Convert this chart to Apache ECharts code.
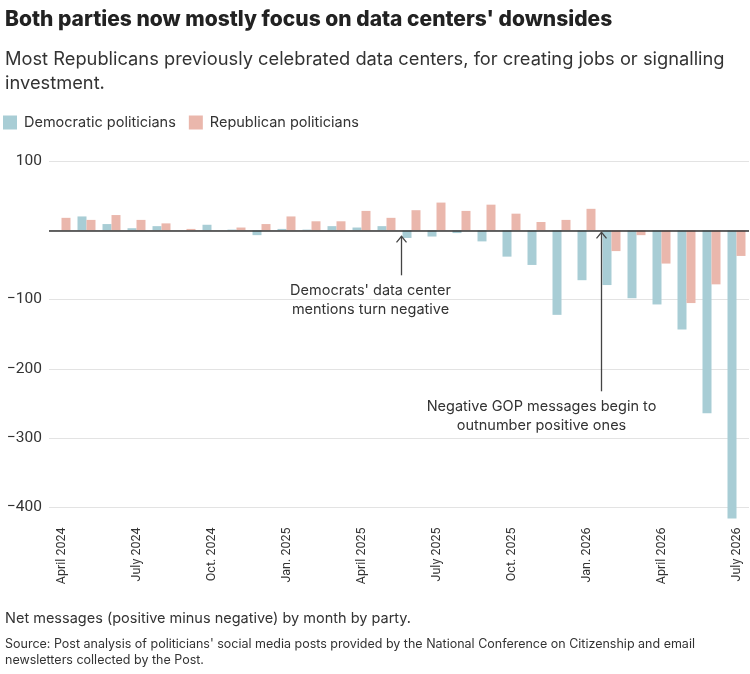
<!DOCTYPE html>
<html>
<head>
<meta charset="utf-8">
<script src="https://cdn.jsdelivr.net/npm/echarts@6/dist/echarts.min.js"></script>
<style>
  html, body { margin: 0; padding: 0; background: #fff; }
  #chart { width: 750px; height: 674px; }
</style>
</head>
<body>
<div id="chart"></div>
<script>
const months = [
  'April 2024', 'May 2024', 'June 2024', 'July 2024', 'Aug. 2024', 'Sept. 2024',
  'Oct. 2024', 'Nov. 2024', 'Dec. 2024', 'Jan. 2025', 'Feb. 2025', 'March 2025',
  'April 2025', 'May 2025', 'June 2025', 'July 2025', 'Aug. 2025', 'Sept. 2025',
  'Oct. 2025', 'Nov. 2025', 'Dec. 2025', 'Jan. 2026', 'Feb. 2026', 'March 2026',
  'April 2026', 'May 2026', 'June 2026', 'July 2026'
]

const democrats = [
  0, 20, 9, 3, 6, 0, 8, 1, -7, 2, 1, 6, 4, 6,
  -11, -9, -4, -16, -38, -50, -122, -72, -79, -98, -107, -143, -264, -416
]

const republicans = [
  18, 15, 22, 15, 10, 2, 0, 4, 9, 20, 13, 13, 28, 18,
  29, 40, 28, 37, 24, 12, 15, 31, -30, -7, -48, -105, -78, -37
]

const yTicks = [100, 0, -100, -200, -300, -400]

const FONT = 'Inter, Roboto, sans-serif'
const AXIS_FONT = 'Roboto, sans-serif'
const INK = '#333'
const BLUE = '#a8cdd5'
const RED = '#eab7ac'

const chart = echarts.init(document.getElementById('chart'), null, { renderer: 'canvas' })

chart.setOption({
  animation: false,
  backgroundColor: '#fff',
  textStyle: { fontFamily: FONT, color: INK },
  title: [
    {
      text: "Both parties now mostly focus on data centers' downsides",
      left: 5, top: 9, padding: 0,
      textStyle: { fontFamily: FONT, fontSize: 21, fontWeight: 800, color: '#222' }
    },
    {
      text: 'Most Republicans previously celebrated data centers, for creating jobs or signalling\ninvestment.',
      left: 5, top: 48, padding: 0,
      textStyle: { fontFamily: FONT, fontSize: 18.3, fontWeight: 'normal', color: INK, lineHeight: 24 }
    },
    {
      text: 'Net messages (positive minus negative) by month by party.',
      left: 5, top: 611, padding: 0,
      textStyle: { fontFamily: FONT, fontSize: 14.5, fontWeight: 'normal', color: INK }
    },
    {
      text: "Source: Post analysis of politicians' social media posts provided by the National Conference on Citizenship and email\nnewsletters collected by the Post.",
      left: 5, top: 636, padding: 0,
      textStyle: { fontFamily: FONT, fontSize: 12.5, fontWeight: 'normal', color: INK, lineHeight: 16 }
    }
  ],
  legend: {
    left: 3, top: 115, padding: 0,
    icon: 'rect',
    itemWidth: 14, itemHeight: 14, itemGap: 13,
    textStyle: { fontFamily: FONT, fontSize: 14.5, color: INK, padding: [0, 0, 0, 2] },
    data: ['Democratic politicians', 'Republican politicians']
  },
  grid: { left: 49, right: 1, top: 161, bottom: 166.5, containLabel: false, outerBoundsMode: 'none' },
  xAxis: {
    type: 'category',
    data: months,
    axisLine: { show: false, onZero: false },
    axisTick: { show: false },
    axisLabel: {
      interval: 2,
      rotate: 90,
      margin: 20,
      fontFamily: AXIS_FONT,
      fontSize: 12.5,
      color: INK
    }
  },
  yAxis: {
    type: 'value',
    min: yTicks[yTicks.length - 1],
    max: yTicks[0],
    interval: 100,
    axisLine: { show: false },
    axisTick: { show: false },
    splitLine: { lineStyle: { color: '#e3e3e3', width: 1 } },
    axisLabel: {
      margin: 7,
      fontFamily: AXIS_FONT,
      fontSize: 15.5,
      color: INK,
      formatter: v => v === 0 ? '' : (v < 0 ? '\u2212' + Math.abs(v) : String(v))
    }
  },
  series: [
    {
      name: 'Democratic politicians',
      type: 'bar',
      data: democrats,
      barWidth: 9,
      barGap: '0%',
      clip: false,
      itemStyle: { color: BLUE },
      markLine: {
        silent: true,
        symbol: 'none',
        label: { show: false },
        lineStyle: { color: INK, width: 1.5, type: 'solid' },
        data: [{ yAxis: 0 }],
        z: 5
      }
    },
    {
      name: 'Republican politicians',
      type: 'bar',
      data: republicans,
      barWidth: 9,
      barGap: '0%',
      clip: false,
      itemStyle: { color: RED }
    }
  ]
})

// annotations, placed just left of the month they point at
function arrow(x, tip, tail) {
  return [
    { type: 'line', shape: { x1: x, y1: tip, x2: x, y2: tail }, style: { stroke: '#444', lineWidth: 1.3 }, z: 10 },
    { type: 'polyline', shape: { points: [[x - 5, tip + 6], [x, tip], [x + 5, tip + 6]] }, style: { stroke: '#444', lineWidth: 1.3, fill: null }, z: 10 }
  ]
}

function note(text, x, y) {
  return {
    type: 'text', x: x, y: y, z: 10,
    style: {
      text: text, fontFamily: FONT, fontSize: 14.5, fill: INK,
      align: 'center', verticalAlign: 'middle', lineHeight: 19
    }
  }
}

const y0 = chart.convertToPixel({ yAxisIndex: 0 }, 0)
const demX = chart.convertToPixel({ xAxisIndex: 0 }, 'June 2025') - 10
const gopX = chart.convertToPixel({ xAxisIndex: 0 }, 'Feb. 2026') - 10

chart.setOption({
  graphic: [
    ...arrow(demX, y0 + 6, y0 + 45),
    note("Democrats' data center\nmentions turn negative", demX - 31, y0 + 70),
    ...arrow(gopX, y0 + 2, y0 + 161),
    note('Negative GOP messages begin to\noutnumber positive ones', gopX - 60, y0 + 186)
  ]
})
</script>
</body>
</html>
